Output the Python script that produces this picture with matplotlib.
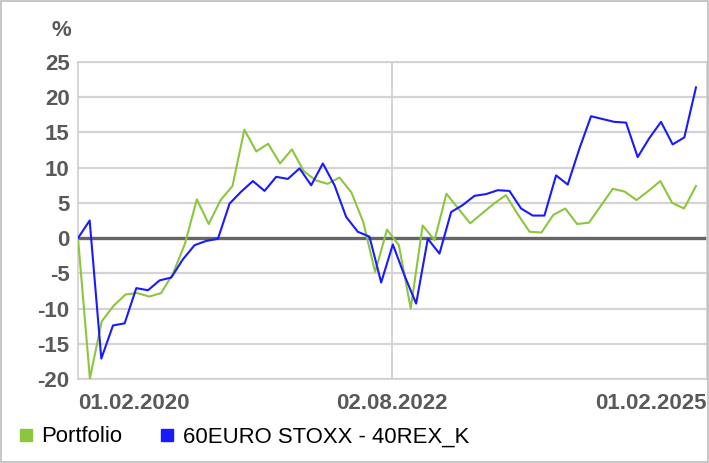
import matplotlib
matplotlib.use("Agg")
import matplotlib.pyplot as plt
import matplotlib.dates as mdates
from matplotlib.lines import Line2D
import numpy as np

plt.rcParams["font.family"] = ["Liberation Sans", "DejaVu Sans"]

# data (% change)
portfolio = [
    0, -19.9, -11.8, -9.6, -8.0, -7.8, -8.3, -7.8, -5.0, -0.8,
    5.5, 2.0, 5.4, 7.4, 15.4, 12.3, 13.4, 10.6, 12.6, 9.5,
    8.2, 7.7, 8.6, 6.5, 2.3, -4.8, 1.2, -1.0, -10.0, 1.8,
    -0.3, 6.3, 4.2, 2.1, 3.5, 4.9, 6.1, 3.4, 0.9, 0.8,
    3.3, 4.2, 2.0, 2.2, 4.6, 7.0, 6.6, 5.4, 6.7, 8.1,
    5.0, 4.2, 7.4,
]
benchmark = [
    0, 2.5, -17.1, -12.4, -12.1, -7.1, -7.4, -6.0, -5.6, -3.0,
    -1.0, -0.4, -0.1, 4.9, 6.6, 8.1, 6.7, 8.7, 8.4, 9.9,
    7.5, 10.6, 7.5, 3.0, 0.9, 0.2, -6.3, -0.9, -5.3, -9.3,
    -0.1, -2.2, 3.7, 4.7, 6.0, 6.25, 6.8, 6.7, 4.2, 3.2,
    3.2, 8.9, 7.6, 12.7, 17.3, 16.9, 16.5, 16.4, 11.5, 14.2,
    16.5, 13.3, 14.3, 21.4,
]
names = ["Portfolio", "60EURO STOXX - 40REX_K"]
colors = ["#8cc63f", "#1a1aff"]
first_date = "2020-02-01"
last_date = "2024-12-31"
tick_dates = ["2020-02-01", "2022-08-02", "2025-02-01"]
tick_labels = ["01.02.2020", "02.08.2022", "01.02.2025"]
y_ticks = list(range(-20, 30, 5))


def date_grid(n):
    d0 = mdates.datestr2num(first_date)
    d1 = mdates.datestr2num(last_date)
    return np.linspace(d0, d1, n)


fig = plt.figure(figsize=(7.09, 4.63), dpi=100)
ax = fig.add_axes([78 / 709, 1 - 379 / 463, 629 / 709, 317 / 463])

grid_c = "#d4d4d4"
for y in y_ticks:
    if y != 0:
        ax.axhline(y, color=grid_c, lw=1.6, zorder=1)
ax.axvline(mdates.datestr2num(tick_dates[1]), color=grid_c, lw=1.4, zorder=1)
ax.axhline(0, color="#666666", lw=2.4, zorder=2)

ax.plot(date_grid(len(portfolio)), portfolio, color=colors[0], lw=1.5, zorder=3)
ax.plot(date_grid(len(benchmark)), benchmark, color=colors[1], lw=1.5, zorder=4)

ax.set_xlim(mdates.datestr2num(tick_dates[0]), mdates.datestr2num(tick_dates[2]))
ax.set_ylim(-20, 25)

lab_c = "#595959"
ax.set_yticks(y_ticks)
ax.set_yticklabels([str(v) for v in y_ticks])
ax.set_xticks([mdates.datestr2num(d) for d in tick_dates])
ax.set_xticklabels(tick_labels)
ax.tick_params(axis="both", length=0, labelsize=16, colors=lab_c)
ax.tick_params(axis="y", pad=6)
ax.tick_params(axis="x", pad=10)
for lab in ax.get_yticklabels() + ax.get_xticklabels():
    lab.set_fontweight("bold")
xl = ax.get_xticklabels()
xl[0].set_ha("left")
xl[2].set_ha("right")

for s in ax.spines.values():
    s.set_color("#cfcfcf")
    s.set_linewidth(1.2)

fig.text(52 / 709, 1 - 30 / 463, "%", fontsize=16, fontweight="bold",
         color=lab_c, va="center", ha="left")

handles = [
    Line2D([], [], marker="s", ls="none", color=c, markersize=8.5)
    for c in colors
]
fig.legend(handles, names, loc="center left",
           bbox_to_anchor=(20 / 709, 1 - 437 / 463), frameon=False,
           ncol=2, fontsize=15.9, handlelength=0.5, handletextpad=0.45,
           columnspacing=1.8, borderpad=0, borderaxespad=0)

fig.patches.append(plt.Rectangle((0.002, 0.002), 0.996, 0.996,
                                 transform=fig.transFigure, fill=False,
                                 edgecolor="#bdbdbd", lw=1.2))

fig.savefig("out.png", dpi=100)
